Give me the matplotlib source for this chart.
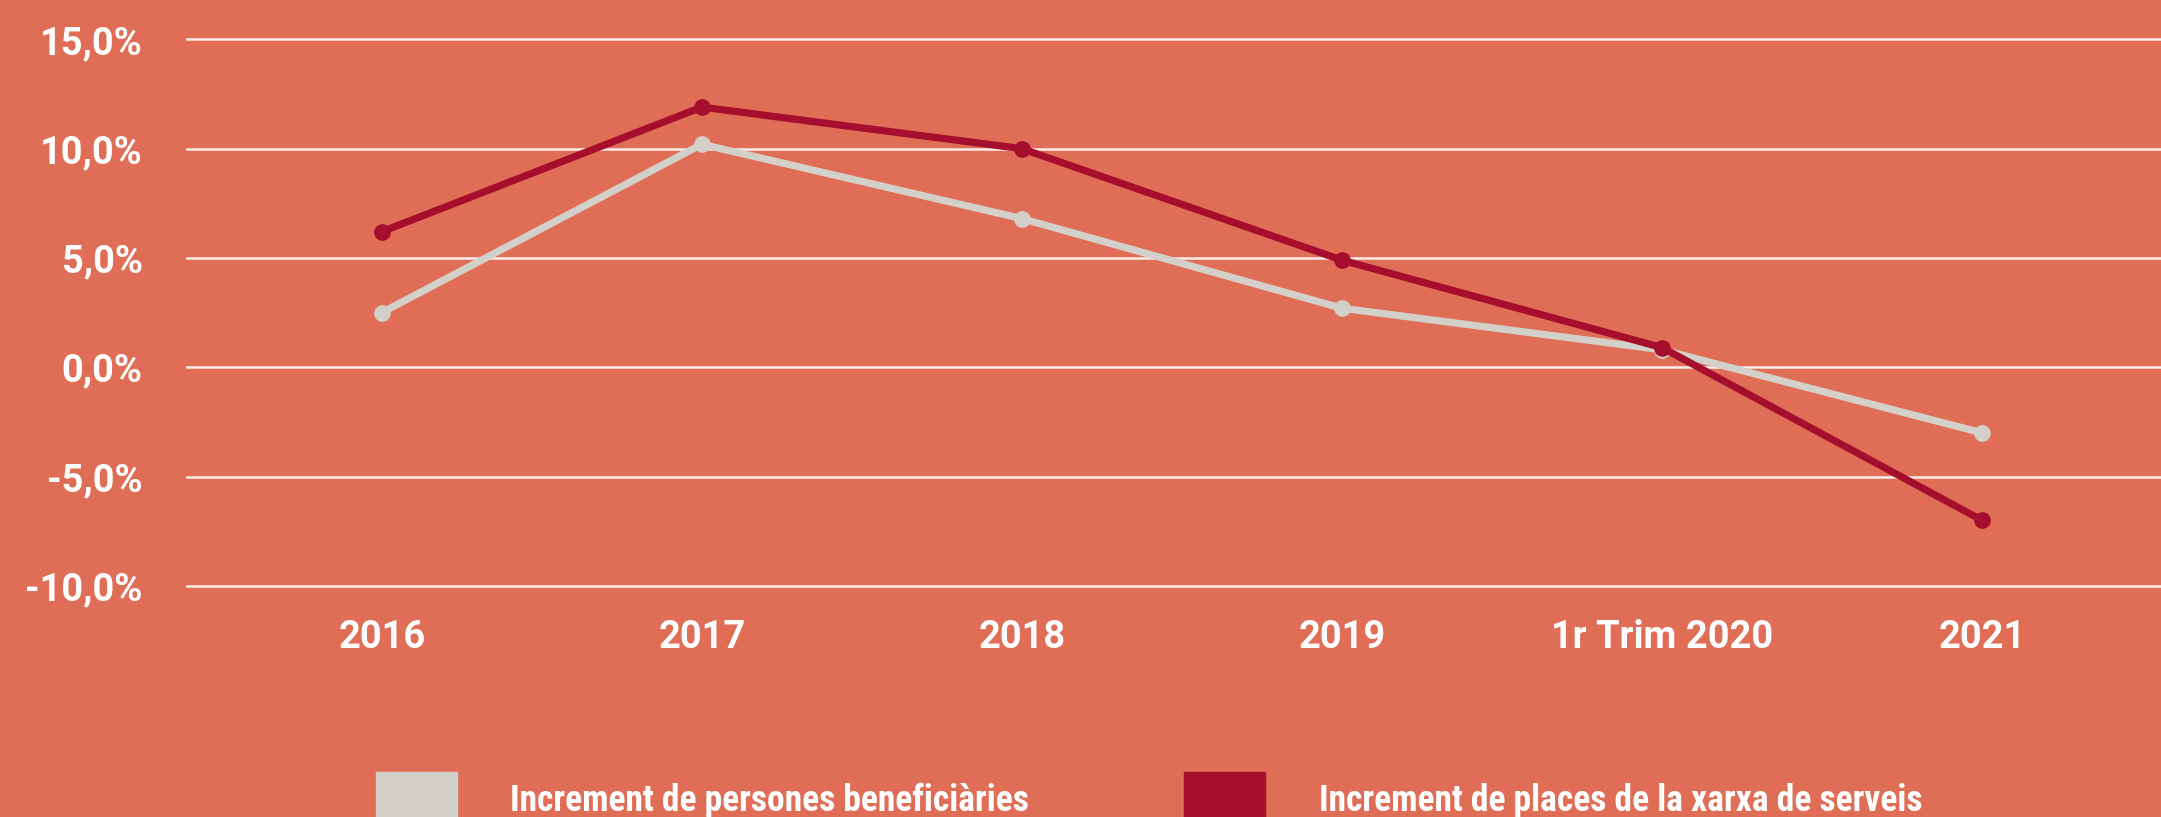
import matplotlib
matplotlib.use('Agg')
import matplotlib.pyplot as plt
from matplotlib.patches import Rectangle

categories = ['2016', '2017', '2018', '2019', '1r Trim 2020', '2021']
persones = [2.5, 10.2, 6.8, 2.7, 0.8, -3.0]
places = [6.2, 11.9, 10.0, 4.9, 0.9, -7.0]
yticks = [-10, -5, 0, 5, 10, 15]
series_labels = ['Increment de persones beneficiàries',
                 'Increment de places de la xarxa de serveis']

BG = '#E06E56'
GREY = '#D3CFC9'
RED = '#A50E2D'
GRID = '#F7EEEA'
W, H = 2161, 817

fig = plt.figure(figsize=(W / 100, H / 100), dpi=100, facecolor=BG)
ax = fig.add_axes([185.7 / W, (H - 600) / H, 1 - 185.7 / W, 600 / H])
ax.set_facecolor(BG)

x = list(range(len(categories)))
ax.plot(x, persones, color=GREY, lw=5.2, marker='o', ms=11, zorder=3)
ax.plot(x, places, color=RED, lw=5.2, marker='o', ms=11, zorder=4)

ax.set_xlim(-0.6125, 5.559)
ax.set_ylim(-10.645, 16.8)
ax.set_yticks(yticks)
ax.set_yticklabels([f'{v:.1f}%'.replace('.', ',') for v in yticks])
ax.set_xticks(x)
ax.set_xticklabels(categories)
ax.yaxis.grid(True, color=GRID, lw=1.8)
ax.set_axisbelow(True)
for s in ax.spines.values():
    s.set_visible(False)

ax.tick_params(axis='y', length=0, pad=31, colors='white')
ax.tick_params(axis='x', length=0, pad=14, colors='white')
for lab in ax.get_yticklabels() + ax.get_xticklabels():
    lab.set_fontfamily('Roboto')
    lab.set_fontweight('bold')
    lab.set_fontsize(27.4)

legfam = ['Roboto Condensed', 'Liberation Sans Narrow', 'DejaVu Sans']
patch_x = [376, 1184]
text_x = [510, 1319]
colors = [GREY, RED]
for px, tx, c, lab in zip(patch_x, text_x, colors, series_labels):
    fig.patches.append(Rectangle((px / W, 0), 81 / W, 45 / H,
                                 transform=fig.transFigure, color=c))
    fig.text(tx / W, (H - 811) / H, lab, color='white', family=legfam,
             weight='bold', fontsize=25.6, va='baseline', ha='left')

fig.savefig('out.png', dpi=100, facecolor=BG)
